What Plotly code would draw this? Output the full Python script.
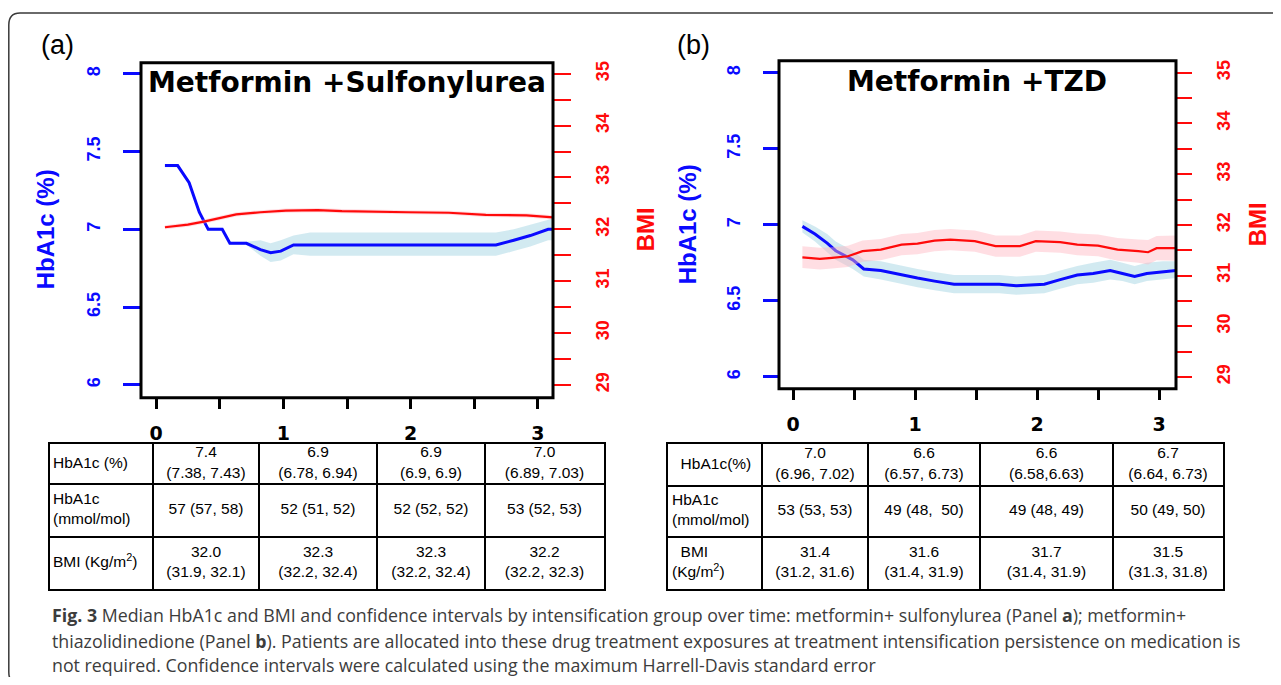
import plotly.graph_objects as go

# page body has an 8px margin; the figure is sized so the page fits the window exactly
W, H = 1265, 669
OFF = 8
def fx(px): return (px - OFF) / W
def fy(py): return 1 - (py - OFF) / H

# ---------------- data: panel (a) metformin + sulfonylurea ----------------
a_x_hba = [0.07, 0.17, 0.26, 0.34, 0.41, 0.52, 0.58, 0.71, 0.82, 0.90, 0.98, 1.08, 1.21, 1.5, 2.0, 2.5, 2.67, 2.81, 2.94, 3.08, 3.12]
a_hba = [7.41, 7.41, 7.30, 7.11, 7.00, 7.00, 6.91, 6.91, 6.87, 6.85, 6.86, 6.90, 6.90, 6.90, 6.90, 6.90, 6.90, 6.93, 6.96, 7.00, 7.00]
a_hba_lo = [7.40, 7.40, 7.29, 7.10, 6.99, 6.99, 6.90, 6.90, 6.83, 6.79, 6.80, 6.84, 6.83, 6.83, 6.83, 6.83, 6.83, 6.86, 6.89, 6.93, 6.93]
a_hba_hi = [7.42, 7.42, 7.31, 7.12, 7.01, 7.01, 6.92, 6.92, 6.93, 6.91, 6.93, 6.96, 6.98, 6.98, 6.98, 6.98, 6.98, 7.00, 7.03, 7.06, 7.07]

a_x_bmi = [0.07, 0.25, 0.375, 0.50, 0.63, 0.82, 1.02, 1.27, 1.46, 1.98, 2.30, 2.59, 2.91, 3.12]
a_bmi = [32.04, 32.09, 32.15, 32.22, 32.29, 32.33, 32.36, 32.37, 32.35, 32.33, 32.32, 32.28, 32.27, 32.23]
a_bmi_lo = [32.00, 32.05, 32.11, 32.18, 32.25, 32.29, 32.32, 32.33, 32.31, 32.29, 32.28, 32.24, 32.23, 32.19]
a_bmi_hi = [32.08, 32.13, 32.19, 32.26, 32.33, 32.37, 32.40, 32.41, 32.39, 32.37, 32.36, 32.32, 32.31, 32.27]

# ---------------- data: panel (b) metformin + TZD ----------------
b_x_hba = [0.077, 0.18, 0.28, 0.35, 0.49, 0.58, 0.72, 0.89, 1.02, 1.16, 1.32, 1.52, 1.69, 1.83, 2.06, 2.19, 2.33, 2.46, 2.60, 2.70, 2.80, 2.90, 3.03, 3.14]
b_hba = [6.99, 6.94, 6.88, 6.83, 6.77, 6.71, 6.70, 6.67, 6.65, 6.63, 6.61, 6.61, 6.61, 6.60, 6.61, 6.64, 6.67, 6.68, 6.70, 6.68, 6.66, 6.68, 6.69, 6.70]
b_hba_lo = [6.95, 6.89, 6.82, 6.77, 6.71, 6.66, 6.64, 6.61, 6.59, 6.57, 6.55, 6.55, 6.55, 6.54, 6.55, 6.58, 6.61, 6.62, 6.64, 6.63, 6.61, 6.63, 6.64, 6.65]
b_hba_hi = [7.03, 6.99, 6.94, 6.89, 6.83, 6.77, 6.76, 6.73, 6.71, 6.69, 6.67, 6.67, 6.67, 6.66, 6.67, 6.70, 6.73, 6.75, 6.77, 6.75, 6.73, 6.75, 6.76, 6.76]

b_x_bmi = [0.077, 0.22, 0.32, 0.45, 0.57, 0.72, 0.89, 1.02, 1.16, 1.29, 1.49, 1.66, 1.86, 1.99, 2.19, 2.33, 2.50, 2.66, 2.83, 2.91, 2.98, 3.14]
b_bmi = [31.36, 31.33, 31.35, 31.38, 31.48, 31.51, 31.61, 31.63, 31.69, 31.71, 31.68, 31.58, 31.58, 31.68, 31.66, 31.61, 31.59, 31.51, 31.48, 31.46, 31.54, 31.54]
b_bmi_lo = [31.15, 31.12, 31.14, 31.17, 31.27, 31.30, 31.40, 31.42, 31.48, 31.50, 31.47, 31.37, 31.37, 31.47, 31.45, 31.40, 31.38, 31.29, 31.25, 31.22, 31.30, 31.29]
b_bmi_hi = [31.58, 31.55, 31.56, 31.59, 31.69, 31.72, 31.82, 31.84, 31.90, 31.92, 31.89, 31.79, 31.79, 31.89, 31.87, 31.83, 31.81, 31.74, 31.71, 31.70, 31.78, 31.79]

# ---------------- tick labels ----------------
x_tickvals = [0, 1, 2, 3]
x_ticktext = ["0", "1", "2", "3"]
x_minorvals = [0.5, 1.5, 2.5]
hba_tickvals = [6, 6.5, 7, 7.5, 8]
hba_ticktext = ["6", "6.5", "7", "7.5", "8"]
bmi_tickvals = [29, 30, 31, 32, 33, 34, 35]
bmi_ticktext = ["29", "30", "31", "32", "33", "34", "35"]
bmi_minorvals = [29.5, 30.5, 31.5, 32.5, 33.5, 34.5]

# ---------------- tables (rows x columns) ----------------
a_table = [
    ["HbA1c (%)", "7.4<br>(7.38, 7.43)", "6.9<br>(6.78, 6.94)", "6.9<br>(6.9, 6.9)", "7.0<br>(6.89, 7.03)"],
    ["HbA1c<br>(mmol/mol)", "57 (57, 58)", "52 (51, 52)", "52 (52, 52)", "53 (52, 53)"],
    ["BMI (Kg/m<sup>2</sup>)", "32.0<br>(31.9, 32.1)", "32.3<br>(32.2, 32.4)", "32.3<br>(32.2, 32.4)", "32.2<br>(32.2, 32.3)"],
]
b_table = [
    ["\u00a0\u00a0HbA1c(%)", "7.0<br>(6.96, 7.02)", "6.6<br>(6.57, 6.73)", "6.6<br>(6.58,6.63)", "6.7<br>(6.64, 6.73)"],
    ["HbA1c<br>(mmol/mol)", "53 (53, 53)", "49 (48,\u00a0 50)", "49 (48, 49)", "50 (49, 50)"],
    ["\u00a0\u00a0BMI<br>(Kg/m<sup>2</sup>)", "31.4<br>(31.2, 31.6)", "31.6<br>(31.4, 31.9)", "31.7<br>(31.4, 31.9)", "31.5<br>(31.3, 31.8)"],
]
# column widths / row heights (pixels)
a_colw = [103, 106, 118, 108, 119]
a_rowh = [40, 54, 52]
b_colw = [94, 106, 112, 133, 110]
b_rowh = [42, 52, 52]

caption_lines = [
    "<b>Fig. 3</b> Median HbA1c and BMI and confidence intervals by intensification group over time: metformin+ sulfonylurea (Panel <b>a</b>); metformin+",
    "thiazolidinedione (Panel <b>b</b>). Patients are allocated into these drug treatment exposures at treatment intensification persistence on medication is",
    "not required. Confidence intervals were calculated using the maximum Harrell-Davis standard error",
]

BLUE = "#0a0aff"
RED = "#ff0a0a"
BLUE_BAND = "rgba(173,216,230,0.55)"
RED_BAND = "rgba(255,182,193,0.45)"

fig = go.Figure()

def band(x, lo, hi, color, xa, ya):
    fig.add_trace(go.Scatter(x=x, y=hi, xaxis=xa, yaxis=ya, mode="lines",
                             line=dict(width=0, color=color), hoverinfo="skip", showlegend=False))
    fig.add_trace(go.Scatter(x=x, y=lo, xaxis=xa, yaxis=ya, mode="lines",
                             line=dict(width=0, color=color), fill="tonexty", fillcolor=color,
                             hoverinfo="skip", showlegend=False))

def line(x, y, color, width, xa, ya):
    fig.add_trace(go.Scatter(x=x, y=y, xaxis=xa, yaxis=ya, mode="lines",
                             line=dict(color=color, width=width), showlegend=False))

# panel a
band(a_x_hba, a_hba_lo, a_hba_hi, BLUE_BAND, "x", "y")
line(a_x_hba, a_hba, BLUE, 3, "x", "y")
band(a_x_bmi, a_bmi_lo, a_bmi_hi, RED_BAND, "x", "y2")
line(a_x_bmi, a_bmi, RED, 2.2, "x", "y2")
# panel b
band(b_x_hba, b_hba_lo, b_hba_hi, BLUE_BAND, "x2", "y3")
line(b_x_hba, b_hba, BLUE, 3, "x2", "y3")
band(b_x_bmi, b_bmi_lo, b_bmi_hi, RED_BAND, "x2", "y4")
line(b_x_bmi, b_bmi, RED, 2.2, "x2", "y4")

TABLE_FONT = dict(family="Liberation Sans, Arial", size=15.5, color="black")

def cum(v):
    out = [0]
    for w in v:
        out.append(out[-1] + w)
    return out

def table(rows, colw, rowh, xa, ya, left_pad):
    xb, yb = cum(colw), cum(rowh)
    xs, ys, ts, pos = [], [], [], []
    for r, row in enumerate(rows):
        for c, txt in enumerate(row):
            ys.append((yb[r] + yb[r + 1]) / 2)
            if c == 0:
                xs.append(xb[0] + left_pad)
                pos.append("middle right")
            else:
                xs.append((xb[c] + xb[c + 1]) / 2)
                pos.append("middle center")
            ts.append(txt)
    fig.add_trace(go.Scatter(x=xs, y=ys, xaxis=xa, yaxis=ya, mode="text", text=ts,
                             textposition=pos, textfont=TABLE_FONT, hoverinfo="skip", showlegend=False))
    return xb, yb

a_xb, a_yb = table(a_table, a_colw, a_rowh, "x3", "y5", 3)
b_xb, b_yb = table(b_table, b_colw, b_rowh, "x4", "y6", 4)

def table_axis(dom, bounds, anchor, reverse=False):
    rng = [bounds[-1], 0] if reverse else [0, bounds[-1]]
    return dict(domain=dom, range=rng, anchor=anchor, tickvals=bounds, showgrid=True,
                gridcolor="black", gridwidth=1.5, showticklabels=False, ticks="", zeroline=False,
                showline=True, mirror=True, linecolor="black", linewidth=2, fixedrange=True)

TICK_X = dict(family="DejaVu Sans", size=19, color="black", weight="bold")

def xaxis(dom, rng, anchor):
    return dict(domain=dom, range=rng, anchor=anchor, tickvals=x_tickvals, ticktext=x_ticktext,
                ticks="outside", ticklen=10, tickwidth=2.5, tickcolor="black", tickfont=TICK_X,
                minor=dict(tickvals=x_minorvals, ticks="outside", ticklen=10, tickwidth=2.5,
                           tickcolor="black", showgrid=False),
                ticklabelstandoff=8, showgrid=False, zeroline=False, showline=False, fixedrange=True)

def hba_axis(dom, rng, anchor, tlen):
    return dict(domain=dom, range=rng, anchor=anchor, tickvals=hba_tickvals, ticktext=hba_ticktext,
                tickangle=-90, ticks="outside", ticklen=tlen, tickwidth=2.5, tickcolor=BLUE,
                tickfont=dict(family="Liberation Sans, Arial", size=18, color=BLUE, weight="bold"),
                ticklabelstandoff=16, showgrid=False, zeroline=False, showline=False, fixedrange=True)

def bmi_axis(over, rng, anchor, tlen):
    return dict(overlaying=over, side="right", range=rng, anchor=anchor, tickvals=bmi_tickvals,
                ticktext=bmi_ticktext, tickangle=-90, ticks="outside", ticklen=tlen, tickwidth=2,
                tickcolor=RED, tickfont=dict(family="Liberation Sans, Arial", size=18, color=RED, weight="bold"),
                minor=dict(tickvals=bmi_minorvals, ticks="outside", ticklen=tlen, tickwidth=2,
                           tickcolor=RED, showgrid=False),
                ticklabelstandoff=16, showgrid=False, zeroline=False, showline=False, fixedrange=True)

def path(points):
    s = ""
    for cmd, pts in points:
        s += cmd + " " + " ".join(f"{fx(px):.5f},{fy(py):.5f}" for px, py in pts) + " "
    return s.strip()

frame = path([("M", [(1300, 11)]), ("L", [(20, 11)]), ("Q", [(8.8, 11), (8.8, 23)]),
              ("L", [(8.8, 672)]), ("Q", [(8.8, 684), (20, 684)]), ("L", [(1300, 684)])])

shapes = [
    dict(type="rect", xref="x domain", yref="y domain", x0=0, x1=1, y0=0, y1=1,
         line=dict(color="black", width=3), layer="above"),
    dict(type="rect", xref="x2 domain", yref="y3 domain", x0=0, x1=1, y0=0, y1=1,
         line=dict(color="black", width=3), layer="above"),
    dict(type="path", xref="paper", yref="paper", path=frame, line=dict(color="#3a3a3a", width=1.5)),
]

def ann(text, x, y, size, color="black", family="Liberation Sans, Arial", angle=0, bold=False, xanchor="center"):
    return dict(text=text, x=fx(x), y=fy(y), xref="paper", yref="paper", showarrow=False,
                xanchor=xanchor, yanchor="middle", textangle=angle,
                font=dict(family=family, size=size, color=color, weight="bold" if bold else "normal"))

annotations = [
    ann("(a)", 57, 43, 27),
    ann("(b)", 693, 43, 27),
    ann("Metformin +Sulfonylurea", 347, 81, 28, family="DejaVu Sans", bold=True),
    ann("Metformin +TZD", 977, 80, 28, family="DejaVu Sans", bold=True),
    ann("HbA1c (%)", 45, 228, 24, color=BLUE, angle=-90, bold=True),
    ann("BMI", 645, 228, 24, color=RED, angle=-90, bold=True),
    ann("HbA1c (%)", 687, 223, 24, color=BLUE, angle=-90, bold=True),
    ann("BMI", 1257, 223, 24, color=RED, angle=-90, bold=True),
]
for txt, yy in zip(caption_lines, [615, 640.5, 665]):
    annotations.append(ann(txt, 50, yy, 17.8, color="#3c3c3c", family="Open Sans", xanchor="left"))

fig.update_layout(
    width=W, height=H, autosize=False,
    margin=dict(l=0, r=0, t=0, b=0),
    paper_bgcolor="white", plot_bgcolor="white",
    showlegend=False,
    xaxis=xaxis([fx(141), fx(553)], [-0.118, 3.118], "y"),
    yaxis=hba_axis([fy(397), fy(61)], [5.9167, 8.0705], "x", 17),
    yaxis2=bmi_axis("y", [28.75, 35.2115], "x", 17),
    xaxis2=xaxis([fx(779), fx(1176)], [-0.1148, 3.139], "y3"),
    yaxis3=hba_axis([fy(388), fy(59)], [5.9213, 8.0787], "x2", 15),
    yaxis4=bmi_axis("y3", [28.764, 35.236], "x2", 15),
    xaxis3=table_axis([fx(50), fx(604)], a_xb, "y5"),
    yaxis5=table_axis([fy(589), fy(443)], a_yb, "x3", reverse=True),
    xaxis4=table_axis([fx(668), fx(1223)], b_xb, "y6"),
    yaxis6=table_axis([fy(589), fy(443)], b_yb, "x4", reverse=True),
    shapes=shapes,
    annotations=annotations,
)

fig.write_html("out.html", config=dict(displayModeBar=False))
